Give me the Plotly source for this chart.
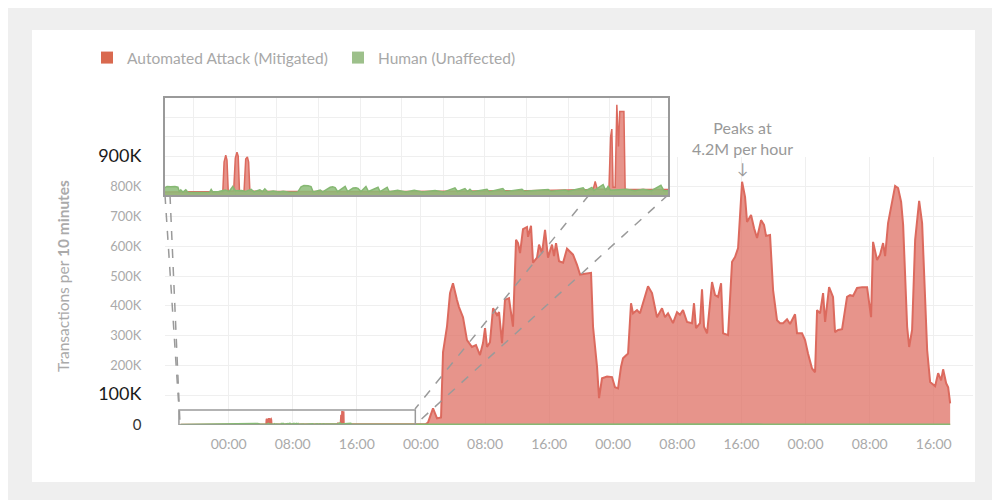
import plotly.graph_objects as go
import pandas as pd

# ---------------- data (hours from day-1 00:00, values in thousands) ----------------
BASE = pd.Timestamp("2023-05-02 00:00")

attack_hours = [
    -6.0, -4.0, -2.0, 0.0, 2.0, 3.3, 4.0, 4.6, 4.70, 4.73, 4.77, 4.80, 4.83, 4.96, 5.00, 5.04,
    5.07, 5.10, 5.21, 5.25, 5.29, 5.32, 5.35, 6.0, 7.0, 8.0, 9.0, 10.0, 11.0, 12.0, 13.0,
    13.60, 13.65, 13.70, 13.98, 14.02, 14.05, 14.08, 14.13, 14.17, 14.21, 14.24, 14.34, 14.37,
    14.6, 15.5, 17.0, 19.0, 21.0, 23.0, 24.6,
    24.88, 25.51, 26.01, 26.51, 26.76, 27.25, 27.63, 28.00, 28.50, 28.75, 29.25, 29.75, 30.37,
    30.87, 31.37, 31.75, 32.00, 32.25, 32.62, 33.00, 33.50, 33.75, 34.12, 34.49, 34.99, 35.49,
    35.87, 36.12, 36.37, 36.74, 37.24, 37.37, 37.74, 37.99, 38.49, 38.74, 39.11, 39.49, 39.86,
    40.36, 40.61, 40.86, 41.24, 41.74, 42.23, 42.73, 42.98, 43.48, 43.86, 44.48, 45.23, 45.48,
    45.98, 46.23, 46.60, 47.23, 47.85, 48.22, 48.60, 48.97, 49.22, 49.85, 50.22, 50.47, 50.97,
    51.34, 51.84, 52.34, 52.84, 53.46, 54.09, 54.46, 54.84, 55.46, 55.96, 56.33, 56.71, 57.21,
    57.83, 58.08, 58.33, 58.83, 59.08, 59.33, 59.71, 60.33, 60.71, 61.08, 61.46, 61.71, 62.33,
    62.83, 63.20, 63.58, 64.08, 64.45, 64.70, 65.20, 65.58, 65.95, 66.45, 66.82, 67.07, 67.57,
    67.95, 68.44, 68.82, 69.19, 69.69, 70.07, 70.69, 70.94, 71.56, 71.94, 72.31, 72.81, 73.19,
    73.44, 73.81, 74.19, 74.44, 74.94, 75.43, 75.68, 76.06, 76.56, 77.18, 77.56, 77.93, 78.43,
    79.06, 79.68, 80.18, 80.43, 80.93, 81.30, 81.68, 81.93, 82.30, 82.80, 83.18, 83.55, 83.93,
    84.18, 84.68, 84.93, 85.30, 85.68, 86.18, 86.55, 87.18, 87.55, 88.17, 88.55, 88.92, 89.17,
    89.55, 89.80, 90.05,
]
attack_k = [
    1.2, 1.4, 1.3, 1.5, 1.5, 1.6, 1.6, 1.7, 1.8, 17.0, 20.5, 18.0, 2.0, 2.0, 19.0, 22.0,
    20.0, 2.0, 2.0, 18.5, 19.6, 17.0, 2.0, 1.8, 1.7, 1.8, 1.8, 1.9, 2.0, 2.2, 2.6,
    2.8, 7.0, 3.0, 3.0, 30.0, 34.0, 4.0, 4.0, 46.5, 25.0, 43.0, 43.0, 3.0,
    2.8, 2.6, 2.4, 2.5, 2.6, 2.8, 3.0,
    8, 56, 22, 25, 245, 330, 443, 476, 420, 396, 362, 285, 262,
    268, 235, 275, 325, 262, 278, 392, 369, 379, 275, 420, 426, 330,
    622, 611, 577, 658, 665, 632, 669, 545, 562, 606, 577, 655, 562,
    606, 567, 611, 550, 545, 592, 579, 572, 538, 505, 508, 511, 330,
    195, 90, 157, 163, 161, 127, 123, 195, 224, 240, 409, 375, 386,
    375, 420, 466, 443, 362, 392, 362, 375, 342, 379, 370, 386, 346,
    342, 409, 325, 342, 456, 330, 308, 480, 436, 430, 476, 308, 302,
    548, 564, 594, 817, 766, 682, 705, 661, 628, 688, 672, 635, 638,
    453, 352, 342, 342, 355, 339, 372, 308, 308, 285, 240, 190, 177,
    386, 375, 443, 346, 463, 430, 312, 319, 322, 430, 436, 433, 460,
    463, 463, 362, 615, 554, 572, 611, 567, 678, 756, 803, 796, 749,
    672, 330, 262, 319, 622, 753, 678, 251, 144, 130, 174, 150, 187,
    140, 127, 73,
]

human_hours = [
    -6.0, -4.5, -3.0, -1.5, 0.0, 1.5, 2.5,
    3.31, 3.36, 3.45, 3.55, 3.62, 3.66, 3.69, 3.74, 3.81, 3.86, 4.1, 4.38, 4.42, 4.46, 4.6,
    4.76, 4.85, 4.94, 5.00, 5.15, 5.25, 5.38, 5.45, 5.59, 5.65, 5.71, 5.78, 5.91, 6.05, 6.15,
    6.3, 6.5, 6.58, 6.65, 6.75, 6.82, 6.87, 7.04, 7.10, 7.28, 7.34, 7.40, 7.46, 7.64, 7.70,
    7.83, 7.90, 7.95, 8.02, 8.14, 8.20, 8.43, 8.48, 8.65, 8.70, 8.9, 9.1, 9.3, 9.5, 9.8,
    10.0, 10.28, 10.34, 10.52, 10.58, 10.64, 10.70, 11.05, 11.10, 11.43, 11.49, 11.89, 11.95,
    12.2, 12.52, 12.58, 12.93, 13.0, 13.36, 13.42, 13.57, 13.62, 13.84, 13.90, 13.96, 14.02,
    14.4, 14.6, 14.8, 15.0, 15.23, 15.30, 15.5,
    17, 20, 23, 26, 30, 36, 42, 48, 54, 60, 66, 72, 78, 84, 90.05,
]
human_k = [
    1.0, 1.3, 1.2, 1.5, 1.3, 1.4, 1.3,
    3.8, 4.4, 4.2, 4.4, 4.0, 1.6, 2.6, 1.5, 2.7, 1.4, 1.3, 1.4, 2.9, 1.5, 1.8,
    2.5, 1.8, 4.4, 2.2, 2.3, 1.8, 2.9, 1.6, 2.7, 1.7, 3.2, 1.6, 2.1, 1.5, 1.9,
    1.4, 1.5, 4.2, 4.9, 4.8, 4.3, 1.6, 2.6, 1.6, 4.0, 4.2, 3.8, 1.7, 4.4, 1.8,
    3.6, 3.7, 3.4, 1.8, 4.4, 1.8, 4.0, 1.7, 4.0, 1.7, 2.4, 1.6, 2.5, 1.6, 2.3,
    1.5, 3.7, 1.8, 3.3, 1.8, 3.0, 1.7, 2.9, 1.7, 3.3, 1.8, 2.9, 1.9,
    2.4, 2.8, 1.9, 2.6, 2.0, 3.7, 2.2, 3.9, 2.3, 5.4, 2.4, 4.4, 2.4,
    2.9, 2.2, 2.9, 2.2, 5.0, 2.3, 2.0,
    1.5, 1.4, 1.6, 1.8, 2.0, 2.4, 2.2, 1.8, 2.0, 2.3, 2.1, 1.6, 1.9, 2.2, 2.0,
]

series_names = ["Automated Attack (Mitigated)", "Human (Unaffected)"]
y_tick_k = [0, 100, 200, 300, 400, 500, 600, 700, 800, 900]
y_tick_labels = ["0", "100K", "200K", "300K", "400K", "500K", "600K", "700K", "800K", "900K"]
emphasised_ticks = ["100K", "900K"]

# ---------------- helpers ----------------
def t(h):
    return BASE + pd.to_timedelta(h, unit="h")

# the page has an 8px body margin, so the figure is 992x492 and starts at (8,8)
OFF = 8
W, H = 992, 492
PL, PR, PT, PB = 165, 973, 98, 425          # plot area in page pixels
L, R, T, B = PL - OFF, W - (PR - OFF), PT - OFF, H - (PB - OFF)
PW, PH = PR - PL, PB - PT


def pxx(x):
    return (x - PL) / PW


def pxy(y):
    return (PB - y) / PH


FONT = "Lato, 'Open Sans', sans-serif"
RED_LINE = "#dc6a5e"
RED_FILL = "rgba(222,110,98,0.74)"
GREEN_LINE = "#86b873"
GREEN_FILL = "rgba(140,188,120,0.85)"
GRID = "#efefef"

att_x = [t(h) for h in attack_hours]
att_y = [v * 1000 for v in attack_k]
hum_x = [t(h) for h in human_hours]
hum_y = [v * 1000 for v in human_k]

fig = go.Figure()
for xa, ya, lw in (("x", "y", 2), ("x2", "y2", 1.5)):
    fig.add_trace(go.Scatter(x=att_x, y=att_y, mode="lines", fill="tozeroy",
                             line=dict(color=RED_LINE, width=lw), fillcolor=RED_FILL,
                             xaxis=xa, yaxis=ya, showlegend=False, hoverinfo="skip"))
    fig.add_trace(go.Scatter(x=hum_x, y=hum_y, mode="lines", fill="tozeroy",
                             line=dict(color=GREEN_LINE, width=lw), fillcolor=GREEN_FILL,
                             xaxis=xa, yaxis=ya, showlegend=False, hoverinfo="skip"))

# legend entries
for name, col in zip(series_names, ["#d9694f", "#9dc08b"]):
    fig.add_trace(go.Scatter(x=[None], y=[None], mode="markers", name=name,
                             marker=dict(symbol="square", size=12, color=col)))

tick_text = []
for lab in y_tick_labels:
    if lab in emphasised_ticks:
        tick_text.append(f"<span style='font-size:18px;color:#1a1a1a'>{lab}</span>")
    elif lab == "0":
        tick_text.append(f"<span style='font-size:15px;color:#333'>{lab}</span>")
    else:
        tick_text.append(lab)

fig.update_layout(
    width=W, height=H,
    margin=dict(l=L, r=R, t=T, b=B),
    paper_bgcolor="#efefef",
    plot_bgcolor="white",
    font=dict(family=FONT, color="#aaaaaa", size=13),
    xaxis=dict(type="date", domain=[0, 1], range=[t(-7.94), t(92.9)],
               tick0=BASE, dtick=8 * 3600 * 1000, tickformat="%H:%M",
               showgrid=True, gridcolor=GRID, gridwidth=1, zeroline=False,
               ticks="outside", ticklen=6, tickcolor="rgba(0,0,0,0)",
               tickfont=dict(size=14, color="#aaaaaa"), showline=False),
    yaxis=dict(domain=[0, pxy(157)], range=[0, 900000],
               tickvals=[v * 1000 for v in y_tick_k], ticktext=tick_text,
               showgrid=True, gridcolor=GRID, gridwidth=1, zeroline=False,
               ticks="outside", ticklen=20, tickcolor="rgba(0,0,0,0)",
               tickfont=dict(size=13, color="#aaaaaa"), showline=False),
    xaxis2=dict(type="date", domain=[0, pxx(668)], anchor="y2",
                range=[t(3.31), t(15.40)], dtick=3600 * 1000, tick0=BASE,
                showticklabels=False, showgrid=True, gridcolor=GRID, zeroline=False,
                showline=True, mirror=True, linecolor="#9a9a9a", linewidth=1.5, ticks=""),
    yaxis2=dict(domain=[pxy(195), 1], anchor="x2", range=[0, 50000], dtick=10000,
                showticklabels=False, showgrid=True, gridcolor=GRID, zeroline=False,
                showline=True, mirror=True, linecolor="#9a9a9a", linewidth=1.5, ticks=""),
    legend=dict(orientation="h", x=pxx(87), y=pxy(58), xanchor="left", yanchor="middle",
                font=dict(size=15.5, color="#a8a8a8", family=FONT),
                bgcolor="rgba(0,0,0,0)", entrywidth=206, entrywidthmode="pixels",
                itemwidth=30),
    showlegend=True,
)

shapes = [
    # white card
    dict(type="rect", xref="paper", yref="paper", x0=pxx(32), x1=pxx(975),
         y0=pxy(482), y1=pxy(30), fillcolor="white", line=dict(width=0), layer="below"),
    # zoom box on the main chart
    dict(type="rect", xref="x", yref="y", x0=t(-6.2), x1=t(23.3), y0=0, y1=50000,
         line=dict(color="#9a9a9a", width=1.5), layer="above"),
]
dash = dict(color="#9a9a9a", width=1.5, dash="dash")
for (xa, ya, xb, yb) in [(165, 195, 179, 409), (170, 195, 180, 424),
                         (589, 195, 415, 409), (668, 195, 416, 424)]:
    shapes.append(dict(type="line", xref="paper", yref="paper",
                       x0=pxx(xa), y0=pxy(ya), x1=pxx(xb), y1=pxy(yb), line=dash, layer="above"))
fig.update_layout(shapes=shapes)

peak_idx = attack_k.index(max(attack_k))
annotations = [
    dict(text="Transactions per <b>10 minutes</b>", xref="paper", yref="paper",
         x=pxx(63), y=pxy(276), textangle=-90, showarrow=False,
         font=dict(size=15.5, color="#aaaaaa", family=FONT), xanchor="center", yanchor="middle"),
    dict(text="Peaks at<br>4.2M per hour", xref="x", yref="paper",
         x=att_x[peak_idx], y=pxy(138), showarrow=False, align="center",
         font=dict(size=16, color="#999999", family=FONT), xanchor="center", yanchor="middle"),
    dict(text="↓", xref="x", yref="paper", x=att_x[peak_idx], y=pxy(168), showarrow=False,
         font=dict(size=15, color="#999999", family=FONT), xanchor="center", yanchor="middle"),
]
fig.update_layout(annotations=annotations)

fig.write_html("out.html")
